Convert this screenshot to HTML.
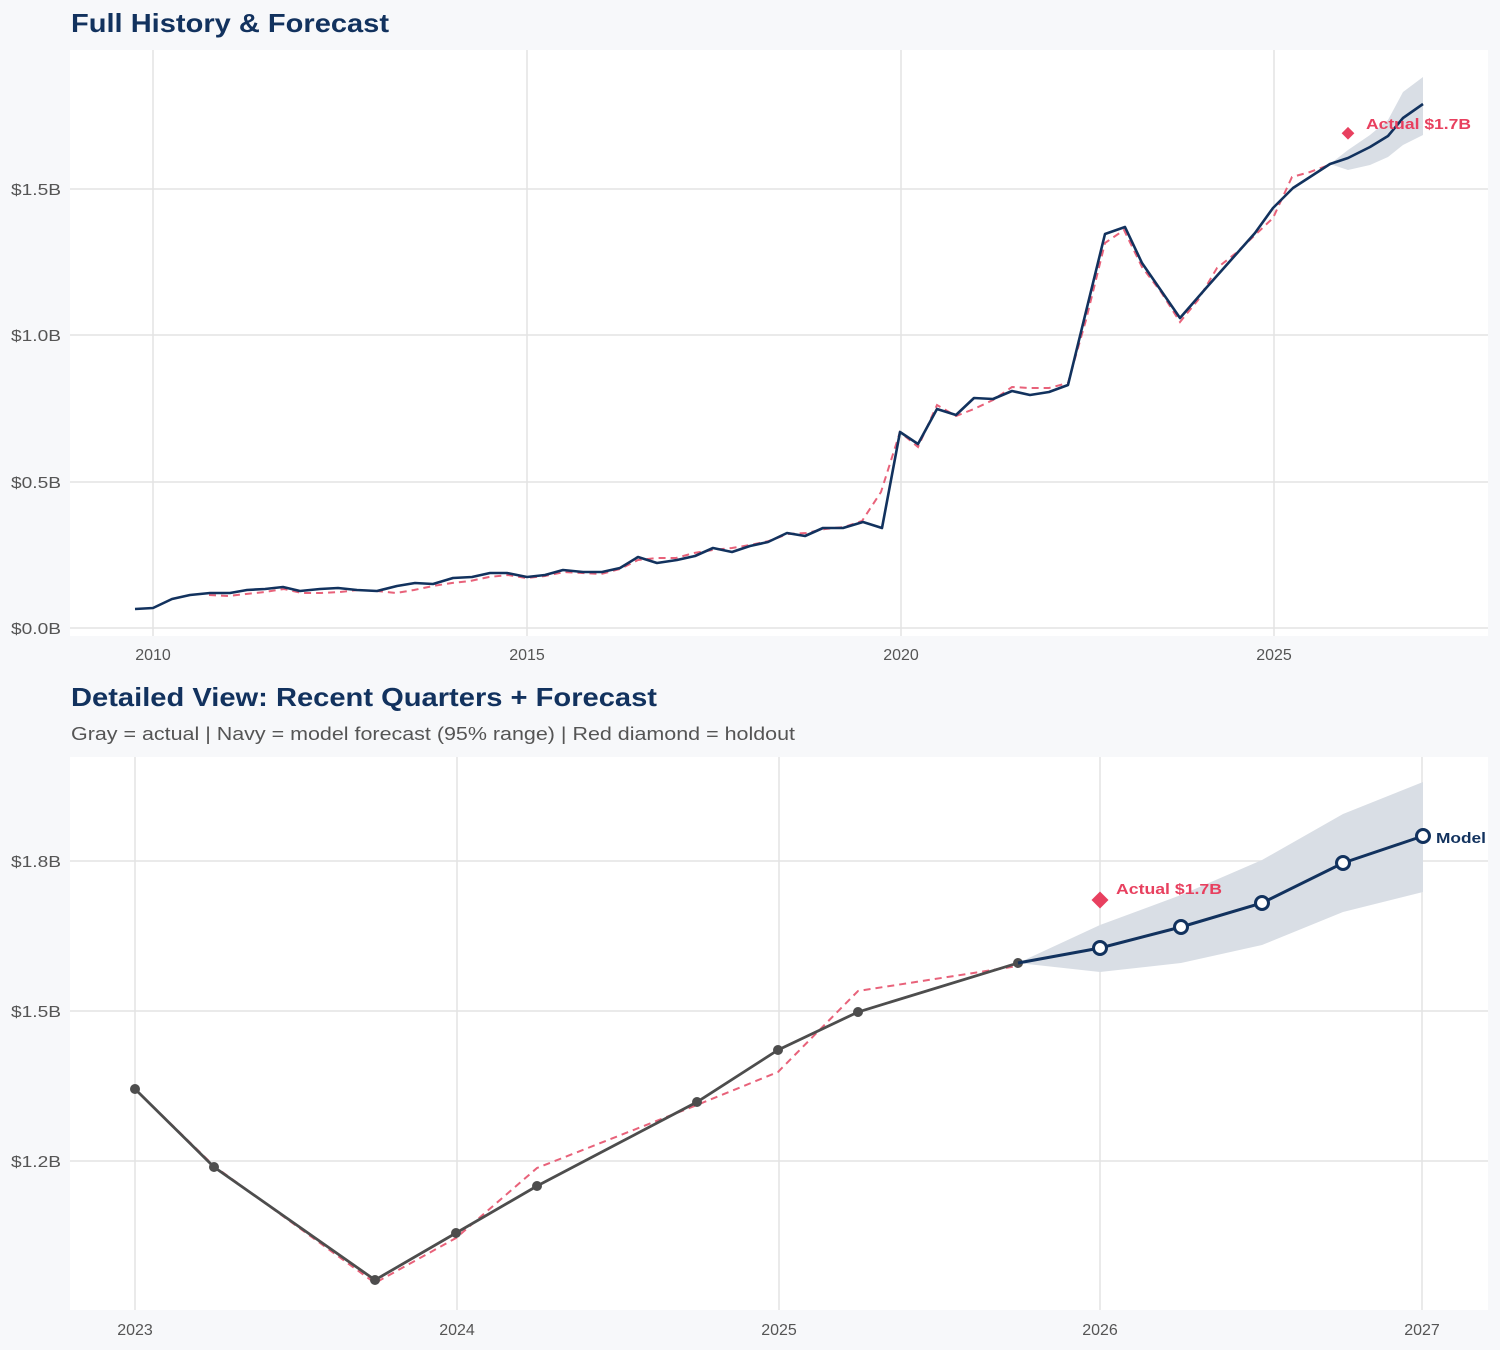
<!DOCTYPE html>
<html><head><meta charset="utf-8"><style>
html,body{margin:0;padding:0;background:#f7f8fa;}
svg{display:block;font-family:"Liberation Sans",Arial,sans-serif;}
</style></head><body>
<svg width="1500" height="1350" viewBox="0 0 1500 1350" xmlns="http://www.w3.org/2000/svg">
<rect width="1500" height="1350" fill="#f7f8fa"/>
<text x="71" y="32" font-size="26" font-weight="bold" fill="#12325e" textLength="318" lengthAdjust="spacingAndGlyphs">Full History &amp; Forecast</text>
<rect x="70" y="50" width="1418" height="586" fill="#fff"/>
<g stroke="#e3e3e3" stroke-width="1.5">
<line x1="153" y1="50" x2="153" y2="636"/><line x1="527" y1="50" x2="527" y2="636"/><line x1="901" y1="50" x2="901" y2="636"/><line x1="1274" y1="50" x2="1274" y2="636"/>
<line x1="70" y1="628" x2="1488" y2="628"/><line x1="70" y1="482" x2="1488" y2="482"/><line x1="70" y1="335" x2="1488" y2="335"/><line x1="70" y1="189" x2="1488" y2="189"/>
</g>
<g font-size="16" fill="#555" text-anchor="end">
<text x="61" y="634" textLength="50" lengthAdjust="spacingAndGlyphs">$0.0B</text><text x="61" y="488" textLength="50" lengthAdjust="spacingAndGlyphs">$0.5B</text><text x="61" y="341" textLength="50" lengthAdjust="spacingAndGlyphs">$1.0B</text><text x="61" y="195" textLength="50" lengthAdjust="spacingAndGlyphs">$1.5B</text>
</g>
<g font-size="16" fill="#555" text-anchor="middle">
<text x="153" y="660">2010</text><text x="527" y="660">2015</text><text x="901" y="660">2020</text><text x="1274" y="660">2025</text>
</g>
<polygon fill="#d9dee5" points="1330,164 1348,150 1370,135 1388,120 1403,92 1423,77 1423,135 1403,145 1388,157 1370,165 1348,170 1330,164"/>
<polyline fill="none" stroke="#e8627a" stroke-width="2" stroke-dasharray="7,5" points="209,595 228,596 246,594 265,592 284,589 302,593 321,593 340,592 358,590 377,591 396,593 414,590 433,586 452,583 470,581 489,577 508,575 526,578 545,576 564,572 582,573 601,574 620,569 638,560 657,558 676,558 694,553 713,550 732,548 750,545 769,541 788,534 806,533 825,529 844,527 862,521 881,492 900,432 918,447 937,405 956,416 974,409 993,400 1012,387 1030,388 1049,388 1068,383 1086,320 1105,243 1124,230 1142,267 1161,292 1180,322 1198,300 1217,268 1236,253 1254,236 1273,218 1292,177 1310,172 1329,165"/>
<polyline fill="none" stroke="#12325e" stroke-width="2.6" stroke-linejoin="round" points="135,609 153,608 172,599 190,595 210,593 230,593 247,590 265,589 283,587 300,591 320,589 338,588 357,590 377,591 397,586 415,583 433,584 453,578 472,577 490,573 507,573 527,577 545,575 563,570 583,572 602,572 620,568 638,557 657,563 677,560 695,556 713,548 732,552 750,546 768,542 787,533 805,536 823,528 843,528 863,522 882,528 900,432 918,444 937,409 956,415 974,398 993,399 1012,391 1030,395 1049,392 1068,385 1105,234 1125,227 1142,263 1180,318 1207,287 1255,233 1273,208 1293,188 1330,164 1348,158 1370,147 1388,136 1403,118 1423,104"/>
<rect x="1343" y="129" width="9" height="9" fill="#e8405f" transform="rotate(45 1348 134)"/>
<text x="1366" y="129" font-size="15" font-weight="bold" fill="#e8405f" textLength="105" lengthAdjust="spacingAndGlyphs">Actual $1.7B</text>

<text x="71" y="706" font-size="26" font-weight="bold" fill="#12325e" textLength="586" lengthAdjust="spacingAndGlyphs">Detailed View: Recent Quarters + Forecast</text>
<text x="71" y="740" font-size="18" fill="#555" textLength="724" lengthAdjust="spacingAndGlyphs">Gray = actual  |  Navy = model forecast (95% range)  |  Red diamond = holdout</text>
<rect x="70" y="757" width="1418" height="553" fill="#fff"/>
<g stroke="#e3e3e3" stroke-width="1.5">
<line x1="135" y1="757" x2="135" y2="1310"/><line x1="457" y1="757" x2="457" y2="1310"/><line x1="779" y1="757" x2="779" y2="1310"/><line x1="1100" y1="757" x2="1100" y2="1310"/><line x1="1422" y1="757" x2="1422" y2="1310"/>
<line x1="70" y1="861" x2="1488" y2="861"/><line x1="70" y1="1011" x2="1488" y2="1011"/><line x1="70" y1="1161" x2="1488" y2="1161"/>
</g>
<g font-size="16" fill="#555" text-anchor="end">
<text x="61" y="867" textLength="50" lengthAdjust="spacingAndGlyphs">$1.8B</text><text x="61" y="1017" textLength="50" lengthAdjust="spacingAndGlyphs">$1.5B</text><text x="61" y="1167" textLength="50" lengthAdjust="spacingAndGlyphs">$1.2B</text>
</g>
<g font-size="16" fill="#555" text-anchor="middle">
<text x="135" y="1335">2023</text><text x="457" y="1335">2024</text><text x="779" y="1335">2025</text><text x="1100" y="1335">2026</text><text x="1422" y="1335">2027</text>
</g>
<polygon fill="#d9dee5" points="1018,963 1100,925 1181,895 1262,860 1343,814 1423,782 1423,892 1343,912 1262,945 1181,963 1100,972"/>
<polyline fill="none" stroke="#e8627a" stroke-width="2" stroke-dasharray="7,5" points="135,1089 214,1166 375,1283 456,1238 537,1168 697,1105 778,1072 858,991 1018,966"/>
<polyline fill="none" stroke="#4d4d4d" stroke-width="2.8" points="135,1089 214,1167 375,1280 456,1233 537,1186 697,1102 778,1050 858,1012 1018,963"/>
<g fill="#4d4d4d">
<circle cx="135" cy="1089" r="5"/><circle cx="214" cy="1167" r="5"/><circle cx="375" cy="1280" r="5"/><circle cx="456" cy="1233" r="5"/><circle cx="537" cy="1186" r="5"/><circle cx="697" cy="1102" r="5"/><circle cx="778" cy="1050" r="5"/><circle cx="858" cy="1012" r="5"/><circle cx="1018" cy="963" r="5"/>
</g>
<polyline fill="none" stroke="#12325e" stroke-width="3" points="1018,963 1100,948 1181,927 1262,903 1343,863 1423,836"/>
<g fill="#fff" stroke="#12325e" stroke-width="3">
<circle cx="1100" cy="948" r="6.5"/><circle cx="1181" cy="927" r="6.5"/><circle cx="1262" cy="903" r="6.5"/><circle cx="1343" cy="863" r="6.5"/><circle cx="1423" cy="836" r="6.5"/>
</g>
<rect x="1094" y="894" width="12" height="12" fill="#e8405f" transform="rotate(45 1100 900)"/>
<text x="1116" y="894" font-size="15" font-weight="bold" fill="#e8405f" textLength="106" lengthAdjust="spacingAndGlyphs">Actual $1.7B</text>
<text x="1436" y="843" font-size="15" font-weight="bold" fill="#12325e" textLength="50" lengthAdjust="spacingAndGlyphs">Model</text>
</svg>
</body></html>
